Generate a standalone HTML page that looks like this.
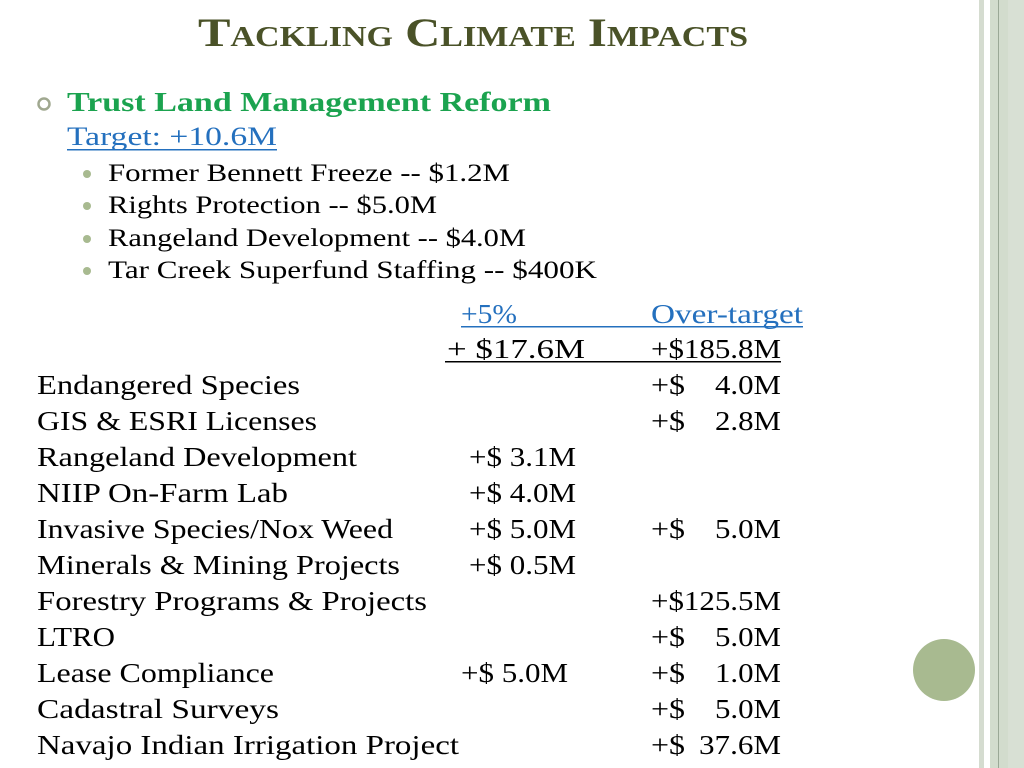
<!DOCTYPE html>
<html><head><meta charset="utf-8"><style>
html,body{margin:0;padding:0;background:#fff;width:1024px;height:768px;overflow:hidden}
svg{display:block}
text{font-family:"Liberation Serif",serif}
</style></head><body>
<svg width="1024" height="768" viewBox="0 0 1024 768">
<rect x="979" y="0" width="5" height="768" fill="#d5dcd0"/>
<rect x="990" y="0" width="34" height="768" fill="#d2dccd"/>
<rect x="998" y="0" width="1" height="768" fill="#9aa896"/>
<rect x="1008" y="0" width="16" height="768" fill="#d8e0d4"/>
<circle cx="944" cy="670" r="31" fill="#a8ba90"/>

<text x="198" y="46" textLength="550" lengthAdjust="spacingAndGlyphs" font-size="40" font-weight="bold" fill="#4a5228" style="font-variant:small-caps">Tackling Climate Impacts</text>

<circle cx="44" cy="104" r="5.5" fill="none" stroke="#a0a890" stroke-width="2.5"/>
<text x="67" y="111" textLength="484" lengthAdjust="spacingAndGlyphs" font-size="27" font-weight="bold" fill="#1ba34f">Trust Land Management Reform</text>
<text x="67" y="145" textLength="210" lengthAdjust="spacingAndGlyphs" font-size="26" fill="#2470be">Target:  +10.6M</text>
<rect x="67" y="149" width="210" height="1.5" fill="#2470be"/>

<g fill="#a8ba90">
<circle cx="87" cy="174" r="4"/><circle cx="87" cy="206" r="4"/><circle cx="87" cy="239" r="4"/><circle cx="87" cy="271" r="4"/>
</g>
<g font-size="25" fill="#000">
<text x="108" y="181" textLength="402" lengthAdjust="spacingAndGlyphs">Former Bennett Freeze -- $1.2M</text>
<text x="108" y="213" textLength="329" lengthAdjust="spacingAndGlyphs">Rights Protection -- $5.0M</text>
<text x="108" y="246" textLength="418" lengthAdjust="spacingAndGlyphs">Rangeland Development -- $4.0M</text>
<text x="108" y="278" textLength="489" lengthAdjust="spacingAndGlyphs">Tar Creek Superfund Staffing -- $400K</text>
</g>

<g font-size="27" fill="#2470be">
<text x="461" y="323" textLength="56" lengthAdjust="spacingAndGlyphs">+5%</text>
<text x="651" y="323" textLength="152" lengthAdjust="spacingAndGlyphs">Over-target</text>
</g>
<rect x="461" y="326" width="342" height="1.5" fill="#2470be"/>
<g font-size="27" fill="#000">
<text x="447" y="358" textLength="138" lengthAdjust="spacingAndGlyphs">+ $17.6M</text>
<text x="651" y="358" textLength="130" lengthAdjust="spacingAndGlyphs">+$185.8M</text>
</g>
<rect x="445" y="361" width="336" height="1.5" fill="#000"/>

<g font-size="27" fill="#000">
<text x="37" y="394" textLength="263" lengthAdjust="spacingAndGlyphs">Endangered Species</text>
<text x="37" y="430" textLength="280" lengthAdjust="spacingAndGlyphs">GIS &amp; ESRI Licenses</text>
<text x="37" y="466" textLength="320" lengthAdjust="spacingAndGlyphs">Rangeland Development</text>
<text x="37" y="502" textLength="251" lengthAdjust="spacingAndGlyphs">NIIP On-Farm Lab</text>
<text x="37" y="538" textLength="356" lengthAdjust="spacingAndGlyphs">Invasive Species/Nox Weed</text>
<text x="37" y="574" textLength="363" lengthAdjust="spacingAndGlyphs">Minerals &amp; Mining Projects</text>
<text x="37" y="610" textLength="390" lengthAdjust="spacingAndGlyphs">Forestry Programs &amp; Projects</text>
<text x="37" y="646" textLength="78" lengthAdjust="spacingAndGlyphs">LTRO</text>
<text x="37" y="682" textLength="237" lengthAdjust="spacingAndGlyphs">Lease Compliance</text>
<text x="37" y="718" textLength="242" lengthAdjust="spacingAndGlyphs">Cadastral Surveys</text>
<text x="37" y="754" textLength="422" lengthAdjust="spacingAndGlyphs">Navajo Indian Irrigation Project</text>

<text x="469" y="466" textLength="107" lengthAdjust="spacingAndGlyphs">+$ 3.1M</text>
<text x="469" y="502" textLength="107" lengthAdjust="spacingAndGlyphs">+$ 4.0M</text>
<text x="469" y="538" textLength="107" lengthAdjust="spacingAndGlyphs">+$ 5.0M</text>
<text x="469" y="574" textLength="107" lengthAdjust="spacingAndGlyphs">+$ 0.5M</text>
<text x="461" y="682" textLength="107" lengthAdjust="spacingAndGlyphs">+$ 5.0M</text>

<text x="651" y="394" textLength="34" lengthAdjust="spacingAndGlyphs">+$</text><text x="715" y="394" textLength="66" lengthAdjust="spacingAndGlyphs">4.0M</text>
<text x="651" y="430" textLength="34" lengthAdjust="spacingAndGlyphs">+$</text><text x="715" y="430" textLength="66" lengthAdjust="spacingAndGlyphs">2.8M</text>
<text x="651" y="538" textLength="34" lengthAdjust="spacingAndGlyphs">+$</text><text x="715" y="538" textLength="66" lengthAdjust="spacingAndGlyphs">5.0M</text>
<text x="651" y="610" textLength="130" lengthAdjust="spacingAndGlyphs">+$125.5M</text>
<text x="651" y="646" textLength="34" lengthAdjust="spacingAndGlyphs">+$</text><text x="715" y="646" textLength="66" lengthAdjust="spacingAndGlyphs">5.0M</text>
<text x="651" y="682" textLength="34" lengthAdjust="spacingAndGlyphs">+$</text><text x="715" y="682" textLength="66" lengthAdjust="spacingAndGlyphs">1.0M</text>
<text x="651" y="718" textLength="34" lengthAdjust="spacingAndGlyphs">+$</text><text x="715" y="718" textLength="66" lengthAdjust="spacingAndGlyphs">5.0M</text>
<text x="651" y="754" textLength="34" lengthAdjust="spacingAndGlyphs">+$</text><text x="699" y="754" textLength="82" lengthAdjust="spacingAndGlyphs">37.6M</text>
</g>
</svg>
</body></html>
